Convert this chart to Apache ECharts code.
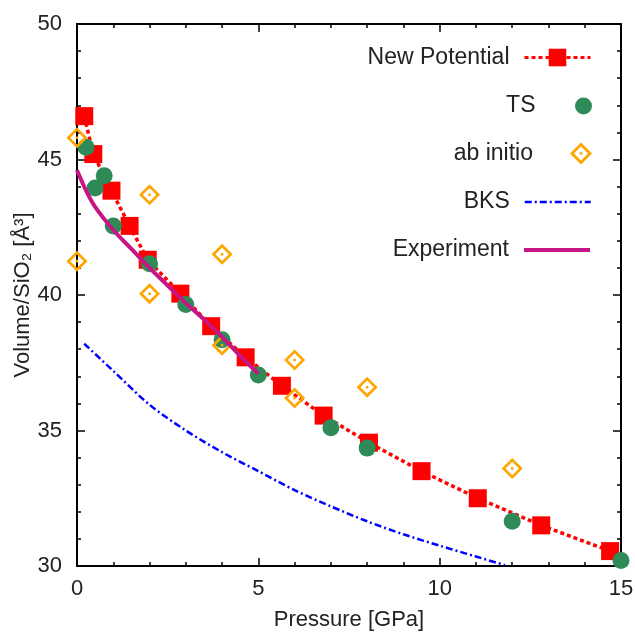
<!DOCTYPE html>
<html>
<head>
<meta charset="utf-8">
<script src="https://cdn.jsdelivr.net/npm/echarts@6/dist/echarts.min.js"></script>
<style>
html,body{margin:0;padding:0;background:#fff;}
#chart{width:635px;height:632px;}
</style>
</head>
<body>
<div id="chart"></div>
<script>
// ---- data ----
var newPotP = [0.2, 0.45, 0.95, 1.45, 1.95, 2.85, 3.7, 4.65, 5.65, 6.8, 8.05, 9.5, 11.05, 12.8, 14.7];
var newPotV = [46.6, 45.2, 43.85, 42.55, 41.3, 40.05, 38.85, 37.7, 36.65, 35.55, 34.55, 33.5, 32.5, 31.5, 30.55];

var tsP = [0.25, 0.5, 0.75, 1.0, 2.0, 3.0, 4.0, 5.0, 7.0, 8.0, 12.0, 15.0];
var tsV = [45.45, 43.95, 44.4, 42.55, 41.15, 39.65, 38.35, 37.05, 35.1, 34.35, 31.65, 30.2];

var abP = [0, 0, 2, 2, 4, 4, 6, 6, 8, 12];
var abV = [45.8, 41.25, 43.7, 40.05, 41.5, 38.15, 37.6, 36.2, 36.6, 33.6];

var bksP = [0.2, 1, 2, 3, 4, 5, 6, 7, 8, 9, 10, 11, 11.8];
var bksV = [38.2, 37.2, 35.95, 35.0, 34.2, 33.5, 32.8, 32.2, 31.65, 31.17, 30.75, 30.35, 30.03];

var expP = [0, 0.25, 0.5, 1, 1.5, 2, 2.5, 3, 3.5, 4, 4.5, 5];
var expV = [44.6, 43.85, 43.25, 42.4, 41.7, 41.0, 40.35, 39.7, 39.1, 38.45, 37.75, 37.1];

var xTicks = { min: 0, max: 15, interval: 5 };
var yTicks = { min: 30, max: 50, interval: 5 };

var seriesNames = ['New Potential', 'TS', 'ab initio', 'BKS', 'Experiment'];

function pairs(xs, ys) { return xs.map(function (x, i) { return [x, ys[i]]; }); }

var diamondPath = 'path://M10,0 L20,10 L10,20 L0,10 Z M10,3.6 L3.6,10 L10,16.4 L16.4,10 Z M8.8,8.8 L11.2,8.8 L11.2,11.2 L8.8,11.2 Z';

var FONT = 'Liberation Sans, Arial, Helvetica, sans-serif';
var TXT = '#222';

function makeX(pos, showLabel) {
  return {
    type: 'value', min: xTicks.min, max: xTicks.max, interval: xTicks.interval,
    position: pos, gridIndex: 0,
    axisLine: { show: true, onZero: false, lineStyle: { color: '#000', width: 2 } },
    axisTick: { show: true, inside: true, length: 8, lineStyle: { color: '#000', width: 1.5 } },
    minorTick: { show: true, splitNumber: 5, length: 4, lineStyle: { color: '#000', width: 1.5 } },
    splitLine: { show: false }, minorSplitLine: { show: false },
    axisLabel: { show: showLabel, fontSize: 22, color: TXT, fontFamily: FONT, margin: 12 },
    name: showLabel ? 'Pressure [GPa]' : '',
    nameLocation: 'middle', nameGap: 43, nameMoveOverlap: false,
    nameTextStyle: { fontSize: 22, color: TXT, fontFamily: FONT }
  };
}
function makeY(pos, showLabel) {
  return {
    type: 'value', min: yTicks.min, max: yTicks.max, interval: yTicks.interval,
    position: pos, gridIndex: 0,
    axisLine: { show: true, onZero: false, lineStyle: { color: '#000', width: 2 } },
    axisTick: { show: true, inside: true, length: 8, lineStyle: { color: '#000', width: 1.5 } },
    minorTick: { show: true, splitNumber: 5, length: 4, lineStyle: { color: '#000', width: 1.5 } },
    splitLine: { show: false }, minorSplitLine: { show: false },
    axisLabel: { show: showLabel, fontSize: 22, color: TXT, fontFamily: FONT, margin: 15 },
    name: showLabel ? 'Volume/SiO\u2082 [\u00C5\u00B3]' : '',
    nameLocation: 'middle', nameGap: 43, nameRotate: 90, nameMoveOverlap: false,
    nameTextStyle: { fontSize: 22, color: TXT, fontFamily: FONT }
  };
}

var rowCenters = [52, 98, 148, 196, 244];
var rowItemH = [22, 17, 22, 21, 21];
var legendLines = [
  { width: 3, type: [4, 3] },
  null,
  null,
  { width: 2.5, type: [7, 3, 2, 3] },
  { width: 4, type: 'solid' }
];
var legends = seriesNames.map(function (n, i) {
  var item = { name: n };
  if (i >= 3) item.itemStyle = { opacity: 0 };
  if (legendLines[i]) item.lineStyle = legendLines[i];
  return {
    orient: 'vertical', align: 'right', right: 38,
    top: rowCenters[i] - rowItemH[i] / 2,
    itemWidth: 66, itemHeight: rowItemH[i],
    selectedMode: false,
    data: [item],
    textStyle: { fontSize: 23, color: TXT, fontFamily: FONT, lineHeight: 14, padding: [0, 10, 0, 0] }
  };
});

var option = {
  backgroundColor: '#fff',
  animation: false,
  grid: { left: 77, right: 14, top: 24, bottom: 66, containLabel: false, outerBoundsMode: 'none' },
  xAxis: [makeX('bottom', true), makeX('top', false)],
  yAxis: [makeY('left', true), makeY('right', false)],
  legend: legends,
  series: [
    {
      name: seriesNames[0], type: 'line', data: pairs(newPotP, newPotV),
      symbol: 'rect', symbolSize: 18, showSymbol: true,
      itemStyle: { color: '#ff0000' },
      lineStyle: { color: '#ff0000', width: 3.5, type: [4, 3] },
      z: 2
    },
    {
      name: seriesNames[1], type: 'scatter', data: pairs(tsP, tsV),
      symbol: 'circle', symbolSize: 17, clip: false,
      itemStyle: { color: '#2e8b57', opacity: 1 },
      z: 3
    },
    {
      name: seriesNames[2], type: 'scatter', data: pairs(abP, abV),
      symbol: diamondPath, symbolKeepAspect: true, symbolSize: 21, clip: false,
      itemStyle: { color: '#ffa500', opacity: 1 },
      z: 4
    },
    {
      name: seriesNames[3], type: 'line', data: pairs(bksP, bksV),
      symbol: 'none', showSymbol: false, smooth: 0.3,
      itemStyle: { color: '#0000ff' },
      lineStyle: { color: '#0000ff', width: 2.5, type: [7, 3, 2, 3] },
      z: 5
    },
    {
      name: seriesNames[4], type: 'line', data: pairs(expP, expV),
      symbol: 'none', showSymbol: false, smooth: 0.3,
      itemStyle: { color: '#c71585' },
      lineStyle: { color: '#c71585', width: 4 },
      z: 6
    }
  ]
};

var chart = echarts.init(document.getElementById('chart'), null, { renderer: 'canvas' });
chart.setOption(option);
</script>
</body>
</html>
